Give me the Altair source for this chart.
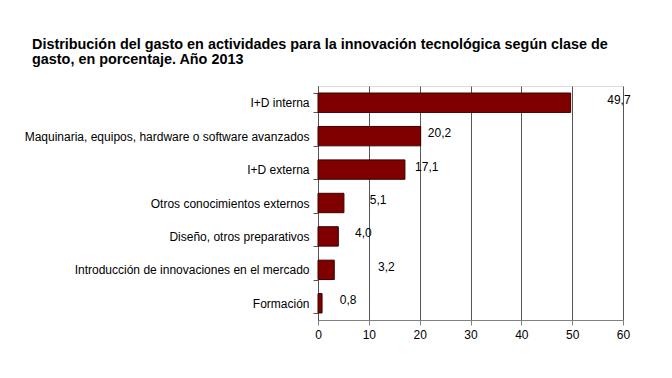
import altair as alt
import pandas as pd

categories = [
    "I+D interna",
    "Maquinaria, equipos, hardware o software avanzados",
    "I+D externa",
    "Otros conocimientos externos",
    "Diseño, otros preparativos",
    "Introducción de innovaciones en el mercado",
    "Formación",
]
values = [49.7, 20.2, 17.1, 5.1, 4.0, 3.2, 0.8]
labels = ["49,7", "20,2", "17,1", "5,1", "4,0", "3,2", "0,8"]
label_pos = [56.9, 21.6, 19.1, 10.2, 7.3, 11.8, 4.3]
x_ticks = [0, 10, 20, 30, 40, 50, 60]

df = pd.DataFrame({"cat": categories, "val": values, "lab": labels, "pos": label_pos})

FONT = "Liberation Sans"

y_enc = alt.Y("cat:N", sort=categories, title=None,
              scale=alt.Scale(paddingInner=0.42, paddingOuter=0.21),
              axis=alt.Axis(labelFont=FONT, labelFontSize=12, labelColor="#000000",
                            labelPadding=4, tickBand="extent", tickSize=5,
                            tickColor="#555555", domainColor="#555555", grid=False,
                            labelLimit=400))

bars = alt.Chart(df).mark_bar(color="#800000", stroke="#3a0000", strokeWidth=1).encode(
    x=alt.X("val:Q", title=None,
            scale=alt.Scale(domain=[0, 60], nice=False),
            axis=alt.Axis(values=x_ticks, labelFont=FONT, labelFontSize=12,
                          labelColor="#000000", tickSize=5, tickColor="#808080",
                          domainColor="#808080", gridColor="#555555", gridWidth=1,
                          labelPadding=4, labelFlush=False)),
    y=y_enc,
)

text = alt.Chart(df).mark_text(align="left", baseline="middle", font=FONT,
                               fontSize=12, color="#000000", dy=-3).encode(
    x=alt.X("pos:Q"),
    y=alt.Y("cat:N", sort=categories),
    text="lab:N",
)

chart = alt.layer(bars, text).properties(
    width=305,
    height=234,
    padding={"left": 310, "top": 78, "right": 40, "bottom": 40},
    autosize=alt.AutoSizeParams(type="none"),
    title=alt.TitleParams(
        ["Distribución del gasto en actividades para la innovación tecnológica según clase de",
         "gasto, en porcentaje. Año 2013"],
        anchor="start", frame="group", font=FONT, fontSize=14.4, fontWeight="bold",
        color="#000000", baseline="top",
        dx=-286, dy=-13, offset=0, lineHeight=15),
).configure_view(stroke="#999999", strokeWidth=1).configure(background="#ffffff")

chart.save("out.html", embed_options={"renderer": "svg", "actions": False})
